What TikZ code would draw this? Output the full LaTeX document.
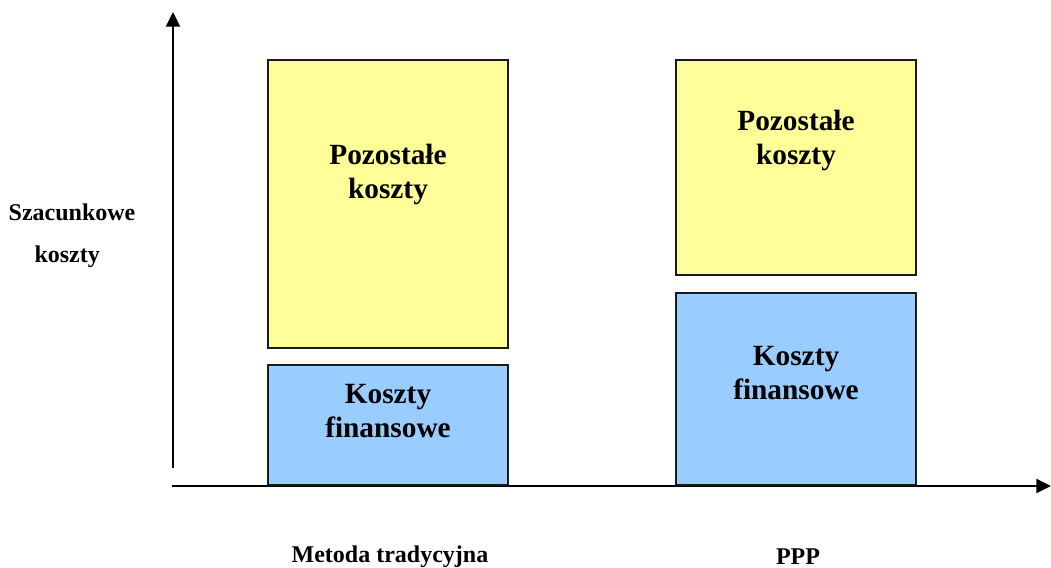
\documentclass[tikz,border=0pt]{standalone}
\usepackage{fontspec}
\setmainfont{Liberation Serif}
\usetikzlibrary{positioning,calc,arrows.meta}
\definecolor{PanelYellow}{HTML}{FFFF99}
\definecolor{PanelBlue}{HTML}{99CCFF}
\definecolor{EdgeGray}{HTML}{1A1A1A}

\begin{document}
\begin{tikzpicture}[x=0.75pt,y=-0.75pt]
\useasboundingbox (0,0) rectangle (1051,568);
\tikzset{
  costbox/.style={draw=EdgeGray,line width=1.6pt},
  boxtext/.style={font=\bfseries\fontsize{22}{25.5}\selectfont,align=center},
  axistext/.style={font=\bfseries\fontsize{18}{31.5}\selectfont,align=center},
  axisline/.style={line width=1.5pt,-{Triangle[length=11pt,width=10.5pt]}}
}
% axes
\coordinate (yfoot) at (173,468);
\coordinate (ytip) at (173,12);
\coordinate (xfoot) at (172,486);
\coordinate (xtip) at (1051,486);
\draw[axisline] (yfoot)--(ytip);
\draw[axisline] (xfoot)--(xtip);
% traditional method
\draw[costbox,fill=PanelYellow] (268,60) rectangle (508,348);
\draw[costbox,fill=PanelBlue] (268,365) rectangle (508,485);
\node[boxtext] (tradrest) at (388,174) {Pozostałe\\koszty};
\node[boxtext] (tradfin) at (388,411) {Koszty\\finansowe};
% PPP
\draw[costbox,fill=PanelYellow] (676,60) rectangle (916,275);
\draw[costbox,fill=PanelBlue] (676,293) rectangle (916,485);
\node[boxtext] (ppprest) at (796,140) {Pozostałe\\koszty};
\node[boxtext] (pppfin) at (796,373) {Koszty\\finansowe};
% labels
\node[axistext] (ylabel) at (72,236) {Szacunkowe\\\hspace*{-0.4em}koszty};
\node[axistext] (tradlabel) at (390,557) {Metoda tradycyjna};
\node[axistext] (ppplabel) at (798,557) {PPP};
\end{tikzpicture}
\end{document}
